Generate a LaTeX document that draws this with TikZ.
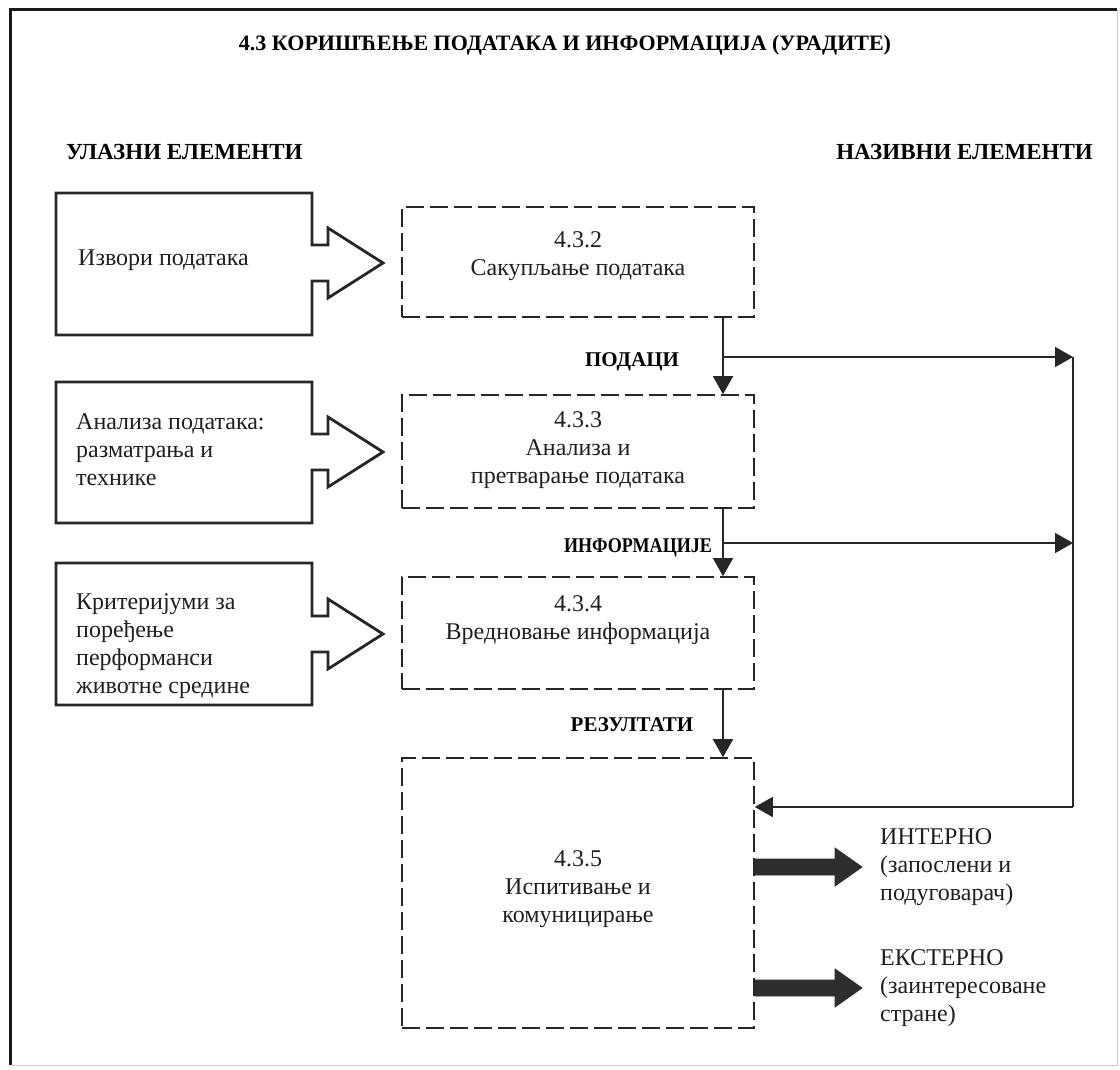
\documentclass[tikz,border=0pt]{standalone}
\usepackage{fontspec}
\usepackage{graphicx}
\setmainfont{Liberation Serif}
\usetikzlibrary{arrows.meta}
\begin{document}
\begin{tikzpicture}[x=1pt,y=-1pt,
  every node/.style={font=\fontsize{24}{28}\selectfont, text=black!88, inner sep=0pt},
  hdr/.style={font=\fontsize{23}{26}\selectfont\bfseries, text=black},
  flowlbl/.style={font=\fontsize{21}{26}\selectfont\bfseries, text=black},
  procbox/.style={draw=black!85, line width=1.6pt, dash pattern=on 18pt off 6pt, minimum width=352pt},
  inbox/.style={draw=black!85, line width=2.8pt, line join=miter},
  conn/.style={draw=black!85, line width=1.6pt, -{Triangle[length=18pt,width=20pt]}},
  plain/.style={draw=black!85, line width=1.6pt},
  bigarrow/.style={fill=black!82, draw=black!82, line width=0.8pt},
  txt/.style={align=left, anchor=west},
  ctr/.style={align=center}]
\useasboundingbox (0,0) rectangle (1120,1070);
% frame
\draw[black!20, line width=1pt] (1117,10) -- (1117,1065) -- (10,1065);
\draw[black!90, line width=3pt] (10,1065) -- (10,10) -- (1117,10);

% headings
\node[hdr, font=\fontsize{22}{26}\selectfont\bfseries] (title) at (565,45) {4.3 КОРИШЋЕЊЕ ПОДАТАКА И ИНФОРМАЦИЈА (УРАДИТЕ)};
\node[hdr, anchor=west] (inhead) at (66,152) {УЛАЗНИ ЕЛЕМЕНТИ};
\node[hdr, anchor=east] (outhead) at (1093,152) {НАЗИВНИ ЕЛЕМЕНТИ};

% input boxes with block arrows
\newcommand\inputshape[3]{%
  \draw[inbox] (56,#1) -- (312,#1) -- (312,#3-18) -- (328,#3-18) -- (328,#3-35) -- (383,#3)
    -- (328,#3+35) -- (328,#3+18) -- (312,#3+18) -- (312,#2) -- (56,#2) -- cycle;}
\inputshape{193}{335}{263}
\inputshape{382}{523}{452}
\inputshape{563}{705}{634}
\node[txt] (i1) at (78,260) {Извори података};
\node[txt] (i2) at (76,450) {Анализа података:\\разматрања и\\технике};
\node[txt] (i3) at (76,646) {Критеријуми за\\поређење\\перформанси\\животне средине};

% process boxes
\node[procbox, minimum height=110pt] (p2) at (578,262) {};
\node[procbox, minimum height=113pt] (p3) at (578,451.5) {};
\node[procbox, minimum height=112pt] (p4) at (578,633) {};
\node[procbox, minimum height=270pt] (p5) at (578,893) {};
\node[ctr] (t2) at (578,256) {4.3.2\\Сакупљање података};
\node[ctr] (t3) at (578,450) {4.3.3\\Анализа и\\претварање података};
\node[ctr] (t4) at (578,620) {4.3.4\\Вредновање информација};
\node[ctr] (t5) at (578,889) {4.3.5\\Испитивање и\\комуницирање};

% flow labels
\node[flowlbl] (l1) at (632,362) {ПОДАЦИ};
\node[flowlbl] (l2) at (638,548) {\scalebox{0.86}[1]{ИНФОРМАЦИЈЕ}};
\node[flowlbl] (l3) at (632,725) {РЕЗУЛТАТИ};

% connectors
\coordinate (vx) at (723,0);
\coordinate (j1) at (723,357);
\coordinate (j2) at (723,543);
\coordinate (r1) at (1073,357);
\coordinate (r2) at (1073,543);
\coordinate (r3) at (1073,807);
\draw[conn] (p2.south -| vx) -- (p3.north -| vx);
\draw[conn] (p3.south -| vx) -- (p4.north -| vx);
\draw[conn] (p4.south -| vx) -- (p5.north -| vx);
\draw[conn] (j1) -- (r1);
\draw[conn] (j2) -- (r2);
\draw[plain] (r1) -- (r3);
\draw[conn] (r3) -- (p5.east |- r3);

% output arrows
\coordinate (o1) at (755,867);
\coordinate (o2) at (755,988);
\foreach \o in {o1,o2}{
  \fill[bigarrow] ([shift={(0,-8)}]\o) -- ++(80,0) -- ++(0,-11) -- ++(27,19) -- ++(-27,19) -- ++(0,-11) -- ++(-80,0) -- cycle;
}
\node[txt] (e1) at (880,867) {ИНТЕРНО\\(запослени и\\подуговарач)};
\node[txt] (e2) at (880,988) {ЕКСТЕРНО\\(заинтересоване\\стране)};
\end{tikzpicture}
\end{document}
